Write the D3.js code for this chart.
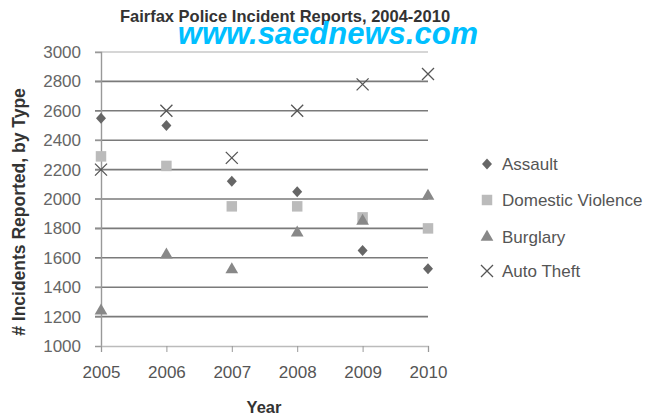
<!DOCTYPE html>
<html><head><meta charset="utf-8">
<script src="https://cdn.jsdelivr.net/npm/d3@7"></script>
<style>body{margin:0;background:#fff}svg{display:block;font-family:"Liberation Sans",Arial,sans-serif}</style>
</head><body>
<svg id="c" width="652" height="416"></svg>
<script>
const years = [2005, 2006, 2007, 2008, 2009, 2010];
const assault = [2550, 2500, 2120, 2050, 1650, 1525];
const domestic = [2290, 2225, 1950, 1950, 1875, 1800];
const burglary = [1240, 1620, 1520, 1770, 1850, 2020];
const autoTheft = [2200, 2600, 2280, 2600, 2780, 2850];
const yTicks = [1000, 1200, 1400, 1600, 1800, 2000, 2200, 2400, 2600, 2800, 3000];
const seriesNames = ["Assault", "Domestic Violence", "Burglary", "Auto Theft"];

const svg = d3.select("#c");
const x = d3.scaleLinear().domain([2005, 2010]).range([101, 428]);
const y = d3.scaleLinear().domain([1000, 3000]).range([346, 52]);

// gridlines
svg.append("g").selectAll("line").data(yTicks.filter(d => d > 1000)).join("line")
  .attr("x1", 95).attr("x2", 428).attr("y1", d => y(d)).attr("y2", d => y(d))
  .attr("stroke", d => d === 3000 ? "#c8c8c8" : "#7a7a7a").attr("stroke-width", 1.6);

// y axis
const ya = svg.append("g").attr("transform", "translate(101,0)")
  .call(d3.axisLeft(y).tickValues(yTicks).tickSize(6).tickPadding(14).tickFormat(d3.format("d")));
ya.select(".domain").attr("stroke", "#999").attr("stroke-width", 1.4);
ya.selectAll(".tick line").attr("stroke", "#999");
ya.selectAll("text").attr("fill", "#666").attr("font-size", 17).attr("font-family", "Liberation Sans, Arial, sans-serif");

// x axis
const xa = svg.append("g").attr("transform", "translate(0,346)")
  .call(d3.axisBottom(x).tickValues(years).tickSize(6).tickPadding(14).tickFormat(d3.format("d")));
xa.select(".domain").attr("stroke", "#bbb").attr("stroke-width", 1.4);
xa.selectAll(".tick line").attr("stroke", "#999");
xa.selectAll("text").attr("fill", "#555").attr("font-size", 17).attr("font-family", "Liberation Sans, Arial, sans-serif");

const styles = [
  {type: d3.symbolDiamond, size: 60, fill: "#666"},
  {type: d3.symbolSquare, size: 110, fill: "#bbb"},
  {type: d3.symbolTriangle, size: 70, fill: "#888"},
  {type: d3.symbolX, size: 70, fill: "none", stroke: "#555"}
];
const data = [assault, domestic, burglary, autoTheft];

function drawSym(g, st) {
  if (st.type === d3.symbolX) {
    g.append("path").attr("d", "M-6,-6L6,6M-6,6L6,-6").attr("stroke", st.stroke).attr("stroke-width", 1.3).attr("fill", "none");
  } else if (st.type === d3.symbolDiamond) {
    g.append("path").attr("d", "M0,-5.5L5,0L0,5.5L-5,0Z").attr("fill", st.fill);
  } else {
    g.append("path").attr("d", d3.symbol().type(st.type).size(st.size)()).attr("fill", st.fill);
  }
}

data.forEach((vals, i) => {
  vals.forEach((v, j) => {
    const g = svg.append("g").attr("transform", `translate(${x(years[j])},${y(v)})`);
    drawSym(g, styles[i]);
  });
});

// legend
const legY = [164, 200, 237, 271];
seriesNames.forEach((n, i) => {
  const g = svg.append("g").attr("transform", `translate(487,${legY[i]})`);
  drawSym(g, styles[i]);
  g.append("text").attr("x", 15).attr("y", 6).attr("font-size", 17).attr("fill", "#555").text(n);
});

// title
svg.append("text").attr("x", 285).attr("y", 22).attr("text-anchor", "middle")
  .attr("font-weight", "bold").attr("font-size", 16.5).attr("fill", "#333").text("Fairfax Police Incident Reports, 2004-2010");
// watermark
svg.append("text").attr("x", 328).attr("y", 44).attr("text-anchor", "middle")
  .attr("font-weight", "bold").attr("font-style", "italic").attr("font-size", 31).attr("fill", "#00bfff")
  .attr("font-family", "Liberation Sans Narrow, Liberation Sans, Arial, sans-serif").text("www.saednews.com");

// axis titles
svg.append("text").attr("transform", "translate(25,212) rotate(-90)").attr("text-anchor", "middle")
  .attr("font-weight", "bold").attr("font-size", 17.5).attr("fill", "#333").text("# Incidents Reported, by Type");
svg.append("text").attr("x", 264).attr("y", 413).attr("text-anchor", "middle")
  .attr("font-weight", "bold").attr("font-size", 16.5).attr("fill", "#333").text("Year");
</script>
</body></html>
